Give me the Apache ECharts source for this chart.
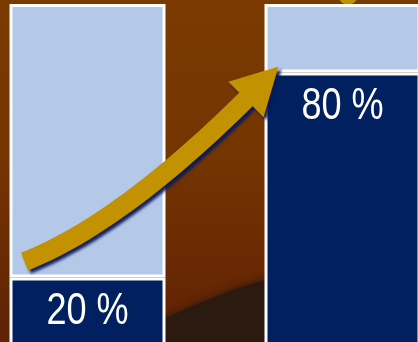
<!DOCTYPE html>
<html>
<head>
<meta charset="utf-8">
<script src="https://cdn.jsdelivr.net/npm/echarts@6/dist/echarts.min.js"></script>
<style>
html,body{margin:0;padding:0;overflow:hidden;width:418px;height:342px;}
body{background:linear-gradient(to bottom,#7a3a00 0%,#743502 45%,#6a2a03 75%,#5e2206 100%);}
#c{width:510px;height:350px;margin-left:-40px;}
</style>
</head>
<body>
<div id="c"></div>
<script>
var categories = ['Before', 'After'];
var shareValues = [20, 80];
var restValues = [80, 20];
var shareLabels = ['20 %', '80 %'];

var chart = echarts.init(document.getElementById('c'), null, {renderer: 'canvas'});
var gold = '#c39200';
var OFF = 40;
var option = {
  animation: false,
  backgroundColor: 'transparent',
  grid: {left: 0, right: 0, top: 4, bottom: 4, containLabel: false},
  xAxis: {type: 'category', data: categories, show: false},
  yAxis: {type: 'value', min: 0, max: 100, show: false},
  series: [
    {
      type: 'bar', stack: 's', data: shareValues, barWidth: 156,
      itemStyle: {color: '#00205f', borderColor: '#ffffff', borderWidth: 3}
    },
    {
      type: 'bar', stack: 's', data: restValues, barWidth: 156,
      itemStyle: {color: '#b4c8e8', borderColor: '#ffffff', borderWidth: 3}
    }
  ]
};
chart.setOption(option);

function px(ci, v) { return chart.convertToPixel({seriesIndex: 0}, [ci, v]); }
var a = px(0, shareValues[0]);
var b = px(1, shareValues[1]);
var top1 = px(1, 100);

var T = [a[0] - 63, a[1] - 16];
var tip = [b[0] - 64, b[1] - 6];
var H = [tip[0] - 32.5, tip[1] + 33];
var C = [T[0] + 96, T[1] - 38];
var hw = 9.5;

function bez(t) {
  var u = 1 - t;
  return [u*u*T[0] + 2*u*t*C[0] + t*t*H[0], u*u*T[1] + 2*u*t*C[1] + t*t*H[1]];
}
function tan(t) {
  var u = 1 - t;
  var x = 2*u*(C[0]-T[0]) + 2*t*(H[0]-C[0]);
  var y = 2*u*(C[1]-T[1]) + 2*t*(H[1]-C[1]);
  var l = Math.sqrt(x*x + y*y);
  return [x/l, y/l];
}
var upper = [], lower = [];
for (var i = 0; i <= 30; i++) {
  var t = i / 30, p = bez(t), d = tan(t);
  upper.push([p[0] + hw*d[1], p[1] - hw*d[0]]);
  lower.push([p[0] - hw*d[1], p[1] + hw*d[0]]);
}
var dH = tan(1);
var nUp = [dH[1], -dH[0]];
var barbUp = [H[0] + 25*nUp[0], H[1] + 25*nUp[1]];
var barbLo = [H[0] - 25*nUp[0], H[1] - 25*nUp[1]];
var pts = upper.concat([barbUp, tip, barbLo]).concat(lower.reverse());

var horizon = [[150, 360], [150, 322], [170, 316], [200, 303], [235, 289], [268, 279], [268, 360]].map(function (q) { return [q[0] + OFF, q[1]]; });

var graphics = [
  {
    type: 'polygon', z: -10, silent: true,
    shape: {points: horizon},
    style: {fill: '#2b1a0f', shadowBlur: 8, shadowColor: '#2b1a0f'}
  },
  {
    type: 'circle', z: -5, silent: true,
    shape: {cx: top1[0] + 5.5, cy: top1[1] - 8, r: 9},
    style: {fill: gold}
  },
  {
    type: 'polygon', z: 100, silent: true,
    shape: {points: pts},
    style: {fill: gold, shadowBlur: 3, shadowColor: 'rgba(10,25,90,0.95)', shadowOffsetX: 3, shadowOffsetY: 3}
  }
];
shareValues.forEach(function (v, i) {
  var p = px(i, v);
  graphics.push({
    type: 'text', z: 50, silent: true,
    x: p[0], y: p[1] + 12, scaleX: 0.82, scaleY: 1,
    style: {
      text: shareLabels[i], fill: '#ffffff', fontSize: 44,
      fontFamily: "'Liberation Sans',Arial,sans-serif",
      align: 'center', verticalAlign: 'top'
    }
  });
});
chart.setOption({graphic: graphics});
</script>
</body>
</html>
